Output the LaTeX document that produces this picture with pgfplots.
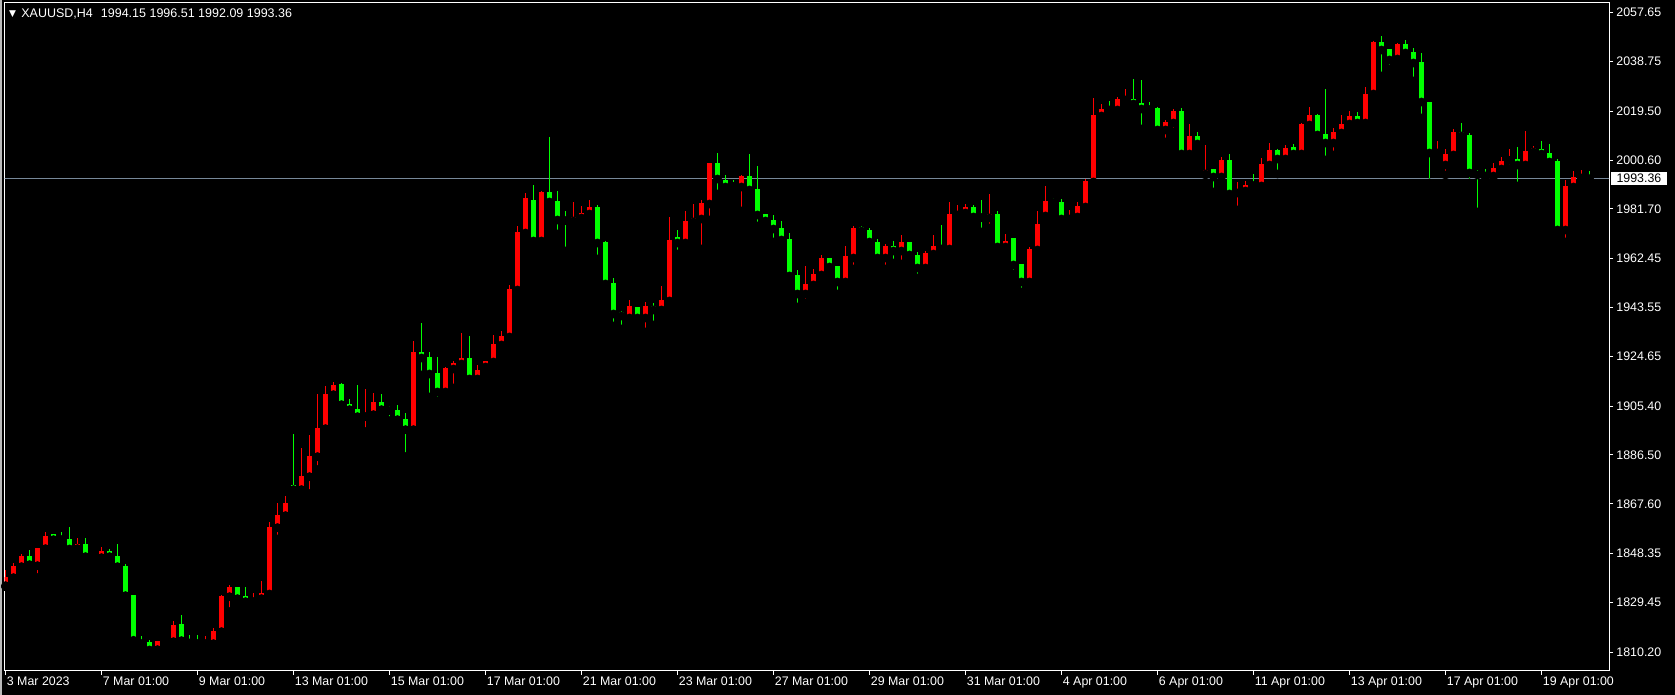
\documentclass[border=0pt]{standalone}
\usepackage{fontspec}
\setmainfont{Liberation Sans}
\newfontfamily\djv{DejaVu Sans}
\usepackage{pgfplots}
\usepackage{pgfplotstable}
\pgfplotsset{compat=1.18}
\definecolor{bull}{RGB}{255,0,0}
\definecolor{bear}{RGB}{0,255,0}
\definecolor{bidline}{RGB}{119,136,153}

% candles: x = bar index (H4), o h l c
\pgfplotstableread{
x o h l c
0 1835.96 1842.15 1835.50 1839.31
1 1839.06 1844.73 1837.90 1843.57
2 1843.31 1848.21 1842.15 1847.43
4 1843.70 1850.60 1839.06 1850.53
5 1850.27 1856.72 1849.11 1855.17
9 1850.27 1854.39 1847.56 1852.07
12 1846.79 1850.91 1844.08 1849.37
19 1811.21 1814.70 1809.66 1814.56
20 1814.20 1815.72 1812.75 1814.40
21 1814.30 1822.30 1812.37 1820.75
25 1813.53 1816.49 1812.75 1814.17
26 1813.53 1819.59 1813.14 1818.43
27 1818.17 1832.35 1815.85 1831.96
28 1831.70 1836.22 1825.91 1835.44
31 1829.77 1833.12 1827.84 1831.19
32 1830.93 1837.76 1830.90 1833.12
33 1832.74 1860.58 1832.09 1858.64
34 1858.41 1867.95 1854.03 1863.31
35 1863.05 1870.66 1861.12 1867.95
37 1873.11 1889.22 1872.72 1878.39
38 1878.13 1894.25 1871.56 1886.12
39 1885.87 1910.10 1880.84 1896.95
40 1896.69 1913.19 1896.31 1910.10
41 1909.84 1914.74 1907.91 1913.58
45 1901.34 1912.03 1895.53 1902.75
46 1902.11 1910.49 1900.17 1907.01
51 1896.30 1930.60 1895.50 1926.35
55 1910.88 1920.55 1909.33 1920.16
56 1919.77 1922.87 1912.43 1922.09
57 1921.71 1933.70 1918.61 1924.03
59 1915.91 1921.32 1915.70 1919.39
60 1920.55 1923.00 1917.84 1922.87
61 1922.48 1932.92 1922.09 1929.44
62 1929.06 1934.47 1927.12 1932.53
63 1932.15 1952.26 1929.06 1950.71
64 1950.32 1975.07 1949.55 1972.75
65 1972.36 1987.83 1970.04 1985.90
67 1969.27 1988.61 1968.88 1988.22
71 1977.01 1984.36 1975.85 1978.56
72 1978.17 1982.81 1975.08 1980.11
73 1979.72 1985.13 1978.56 1982.43
78 1939.50 1946.46 1939.12 1944.14
80 1939.50 1945.69 1934.09 1944.14
82 1942.60 1951.88 1942.21 1946.46
83 1946.08 1978.56 1946.00 1969.67
85 1968.51 1980.88 1968.40 1977.02
86 1976.63 1983.59 1973.92 1978.18
87 1977.79 1985.14 1966.19 1983.98
88 1983.59 1999.60 1977.40 1999.45
92 1990.16 1994.81 1980.88 1994.42
100 1948.79 1959.62 1945.31 1952.66
101 1952.27 1958.46 1952.20 1956.52
102 1956.12 1963.86 1956.00 1962.70
105 1953.42 1967.34 1953.03 1963.47
106 1962.70 1975.07 1958.44 1974.30
110 1962.70 1968.11 1958.44 1967.34
112 1965.40 1971.59 1960.38 1968.88
115 1958.83 1965.40 1957.28 1964.63
116 1964.24 1971.59 1963.47 1967.34
118 1966.18 1984.35 1963.47 1979.71
119 1979.34 1983.21 1978.95 1980.11
120 1980.11 1983.59 1977.02 1982.43
123 1978.18 1987.46 1974.31 1979.73
125 1966.96 1971.99 1966.90 1969.28
128 1953.43 1966.96 1950.34 1966.19
129 1965.80 1980.89 1965.42 1975.86
130 1978.95 1990.55 1978.18 1984.75
133 1977.79 1981.27 1977.41 1978.95
134 1978.57 1984.37 1976.63 1982.82
135 1982.43 1993.27 1979.35 1992.49
136 1992.11 2024.59 1992.00 2018.02
137 2017.63 2022.27 2017.24 2020.33
139 2019.95 2024.98 2019.56 2024.20
140 2023.82 2028.07 2021.11 2024.33
145 2012.22 2016.08 2007.57 2015.31
146 2014.92 2020.33 2011.44 2019.56
148 2002.93 2014.54 2000.61 2009.89
150 1995.20 2006.41 1994.81 1996.75
152 1994.04 2001.77 1991.33 2000.61
154 1987.85 1992.10 1981.27 1989.01
155 1988.62 1992.49 1987.07 1990.94
157 1990.56 2001.38 1990.50 1999.06
158 1998.68 2007.18 1997.13 2004.48
160 2001.00 2006.41 1999.06 2005.25
162 2002.93 2014.92 2002.54 2014.53
163 2014.15 2021.11 2013.37 2018.01
166 2007.18 2012.99 2002.54 2011.44
167 2011.05 2018.01 2010.66 2014.53
168 2014.53 2019.56 2013.37 2017.63
170 2014.92 2028.85 2014.54 2026.14
171 2026.14 2046.63 2024.59 2046.25
174 2039.67 2045.86 2038.13 2045.47
179 2003.32 2007.96 2002.94 2004.48
180 1998.68 2004.87 1994.81 2002.94
181 2002.55 2012.60 2002.50 2011.44
186 1994.41 1999.44 1992.87 1997.51
187 1997.12 2001.76 1995.57 2000.22
188 2000.47 2004.86 1997.12 2000.99
190 1998.67 2011.82 1998.60 2004.08
191 2003.70 2006.02 2003.31 2005.24
195 1973.53 1992.87 1968.89 1990.55
196 1990.16 1996.35 1988.23 1994.03
197 1993.64 1996.74 1993.25 1994.41
}\bull

\pgfplotstableread{
x o h l c
3 1847.43 1849.76 1842.15 1844.08
6 1855.94 1856.00 1851.04 1853.75
7 1853.88 1856.72 1852.85 1853.75
8 1854.01 1858.65 1849.76 1850.14
10 1852.07 1854.39 1846.79 1847.18
11 1847.18 1847.82 1845.24 1846.92
13 1849.37 1850.14 1846.79 1847.18
14 1847.43 1852.07 1842.92 1843.31
15 1843.57 1844.34 1830.16 1832.10
16 1832.35 1832.40 1813.15 1814.82
17 1814.95 1816.49 1813.14 1813.53
18 1814.17 1814.95 1810.69 1811.08
22 1821.14 1824.62 1813.53 1814.69
23 1814.95 1816.88 1813.14 1813.79
24 1814.56 1816.88 1812.37 1813.53
29 1835.44 1835.50 1829.38 1830.93
30 1831.96 1835.44 1828.22 1829.77
36 1874.91 1894.63 1872.33 1873.11
42 1913.97 1914.35 1905.20 1905.97
43 1906.23 1908.17 1901.34 1904.04
44 1904.30 1913.58 1900.56 1901.34
47 1907.01 1910.10 1902.11 1904.04
48 1904.30 1905.46 1899.79 1903.65
49 1903.91 1905.85 1899.01 1900.17
50 1900.43 1902.75 1885.87 1896.31
52 1926.35 1937.56 1917.45 1924.03
53 1924.41 1926.35 1908.95 1917.84
54 1918.22 1924.41 1907.40 1910.88
58 1924.03 1932.53 1913.20 1915.91
66 1985.13 1990.93 1967.72 1969.27
68 1988.23 2009.50 1981.27 1984.36
69 1984.75 1988.61 1971.98 1977.40
70 1977.79 1980.88 1965.41 1977.14
74 1982.43 1983.20 1962.32 1968.51
75 1968.90 1969.28 1951.88 1952.65
76 1953.04 1954.97 1936.41 1941.05
77 1941.82 1942.21 1935.25 1940.28
79 1943.76 1943.80 1937.57 1939.50
81 1944.14 1945.30 1936.80 1942.60
84 1970.83 1973.53 1964.25 1968.51
89 1999.45 2003.31 1987.46 1993.26
90 1992.87 1994.81 1989.39 1990.16
91 1990.70 1992.87 1989.01 1990.40
93 1994.42 2002.93 1988.23 1989.01
94 1989.39 1998.29 1975.08 1979.34
95 1979.72 1979.80 1974.70 1977.02
96 1977.40 1979.34 1968.90 1973.92
97 1974.31 1977.02 1968.90 1969.67
98 1970.06 1972.38 1955.70 1955.75
99 1956.14 1958.07 1943.76 1948.79
103 1962.70 1962.80 1956.12 1959.22
104 1959.60 1959.70 1948.77 1953.42
107 1974.69 1975.07 1970.82 1973.14
108 1973.52 1974.30 1966.56 1968.88
109 1968.88 1970.04 1962.60 1962.70
111 1967.34 1969.27 1960.76 1965.40
113 1968.88 1968.95 1960.76 1963.86
114 1963.86 1965.02 1954.96 1958.83
117 1967.34 1975.46 1964.63 1966.18
121 1982.43 1983.21 1977.79 1978.57
122 1978.82 1985.14 1972.76 1978.31
124 1979.73 1980.89 1966.58 1966.96
126 1970.44 1970.50 1956.52 1960.00
127 1960.39 1960.45 1949.56 1953.43
131 1984.62 1985.91 1981.66 1984.11
132 1984.37 1985.53 1977.41 1977.79
138 2020.46 2023.43 2018.79 2019.95
141 2024.20 2031.94 2020.33 2022.27
142 2022.66 2031.55 2012.60 2020.33
143 2020.85 2023.04 2019.56 2020.08
144 2020.72 2021.11 2011.83 2012.22
147 2019.56 2020.72 2000.23 2002.93
149 2009.89 2011.44 2005.25 2006.80
151 1997.13 1997.20 1988.24 1994.04
153 2000.61 2002.93 1985.53 1987.46
156 1991.20 1995.19 1988.24 1990.69
159 2004.48 2004.86 1995.19 2001.00
161 2005.64 2006.80 2002.16 2002.93
164 2018.01 2018.40 2007.96 2010.28
165 2010.66 2028.07 2000.61 2007.18
169 2017.63 2019.18 2014.80 2014.92
172 2046.25 2048.57 2033.10 2043.15
173 2043.54 2043.60 2035.81 2039.29
175 2045.47 2047.02 2038.90 2042.00
176 2042.38 2043.93 2031.17 2038.13
177 2038.51 2042.00 2016.86 2023.04
178 2023.04 2023.10 1991.72 2003.32
182 2011.44 2014.92 2007.58 2009.90
183 2010.28 2011.06 1991.72 1995.59
184 1995.97 1996.75 1980.51 1994.81
185 1995.20 1997.13 1993.65 1994.43
189 2000.99 2005.63 1990.55 1998.67
192 2004.86 2007.95 2002.15 2002.92
193 2003.31 2006.79 1999.06 1999.83
194 2000.22 2000.99 1972.37 1973.53
198 1994.15 1996.51 1992.09 1993.36
}\bear

\begin{document}
\begin{tikzpicture}
\fill[black] (0,0) rectangle (837.5pt,347.5pt);
\fill[gray!55] (0,0) rectangle (1pt,347.5pt);
\begin{axis}[
  at={(2.25pt,12pt)}, anchor=south west, scale only axis,
  width=802.25pt, height=334pt,
  xmin=-0.125, xmax=200.44, ymin=1802.95, ymax=2061.33,
  clip mode=individual,
  axis line style={white, line width=0.5pt},
  tick style={white, line width=0.5pt},
  tick align=outside,
  major tick length=2pt,
  xtick pos=bottom, ytick pos=right,
  yticklabel pos=right,
  xtick={0,12,24,36,48,60,72,84,96,108,120,132,144,156,168,180,192},
  xticklabels={3 Mar 2023,7 Mar 01:00,9 Mar 01:00,13 Mar 01:00,15 Mar 01:00,17 Mar 01:00,21 Mar 01:00,23 Mar 01:00,27 Mar 01:00,29 Mar 01:00,31 Mar 01:00,4 Apr 01:00,6 Apr 01:00,11 Apr 01:00,13 Apr 01:00,17 Apr 01:00,19 Apr 01:00},
  ytick={1810.20,1829.45,1848.35,1867.60,1886.50,1905.40,1924.65,1943.55,1962.45,1981.70,2000.60,2019.50,2038.75,2057.65},
  yticklabels={1810.20,1829.45,1848.35,1867.60,1886.50,1905.40,1924.65,1943.55,1962.45,1981.70,2000.60,2019.50,2038.75,2057.65},
  ticklabel style={text=white, font=\fontsize{6.2}{7}\selectfont},
  xticklabel style={anchor=north west, inner sep=0pt, xshift=0.5pt, yshift=-0.5pt},
  yticklabel style={anchor=west, inner sep=0pt, xshift=1.5pt},
  axis background/.style={fill=black},
]
\addplot[bidline, line width=0.5pt, forget plot] coordinates {(-1,1993.36) (202,1993.36)};
% red (bullish) candles
\addplot[only marks, mark=none, forget plot, error bars/.cd, y dir=plus, y explicit, error mark=none,
  error bar style={color=bull, line width=0.6pt}]
  table[x=x, y=l, y error plus expr={\thisrow{h}-\thisrow{l}}] {\bull};
\addplot[only marks, mark=none, forget plot, error bars/.cd, y dir=plus, y explicit, error mark=none,
  error bar style={color=bull, line width=2.5pt}]
  table[x=x, y=o, y error plus expr={max(\thisrow{c}-\thisrow{o},0.42)}] {\bull};
% green (bearish) candles
\addplot[only marks, mark=none, forget plot, error bars/.cd, y dir=plus, y explicit, error mark=none,
  error bar style={color=bear, line width=0.6pt}]
  table[x=x, y=l, y error plus expr={\thisrow{h}-\thisrow{l}}] {\bear};
\addplot[only marks, mark=none, forget plot, error bars/.cd, y dir=plus, y explicit, error mark=none,
  error bar style={color=bear, line width=2.5pt}]
  table[x=x, y=c, y error plus expr={max(\thisrow{o}-\thisrow{c},0.42)}] {\bear};
\node[anchor=west, fill=white, text=black, inner sep=0pt, minimum width=28pt, minimum height=6.7pt,
  font=\fontsize{6.2}{7}\selectfont, xshift=0.75pt] at (axis cs:200.44,1993.36) {1993.36};
\end{axis}
\node[text=white, font=\djv\fontsize{4.5}{5}\selectfont, inner sep=0pt] at (6.25pt,340.5pt) {▼};
\node[anchor=west, text=white, inner sep=0pt, font=\fontsize{6.25}{7}\selectfont] at (10.5pt,340.5pt) {XAUUSD,H4\hspace{4pt}1994.15 1996.51 1992.09 1993.36};
\end{tikzpicture}
\end{document}
